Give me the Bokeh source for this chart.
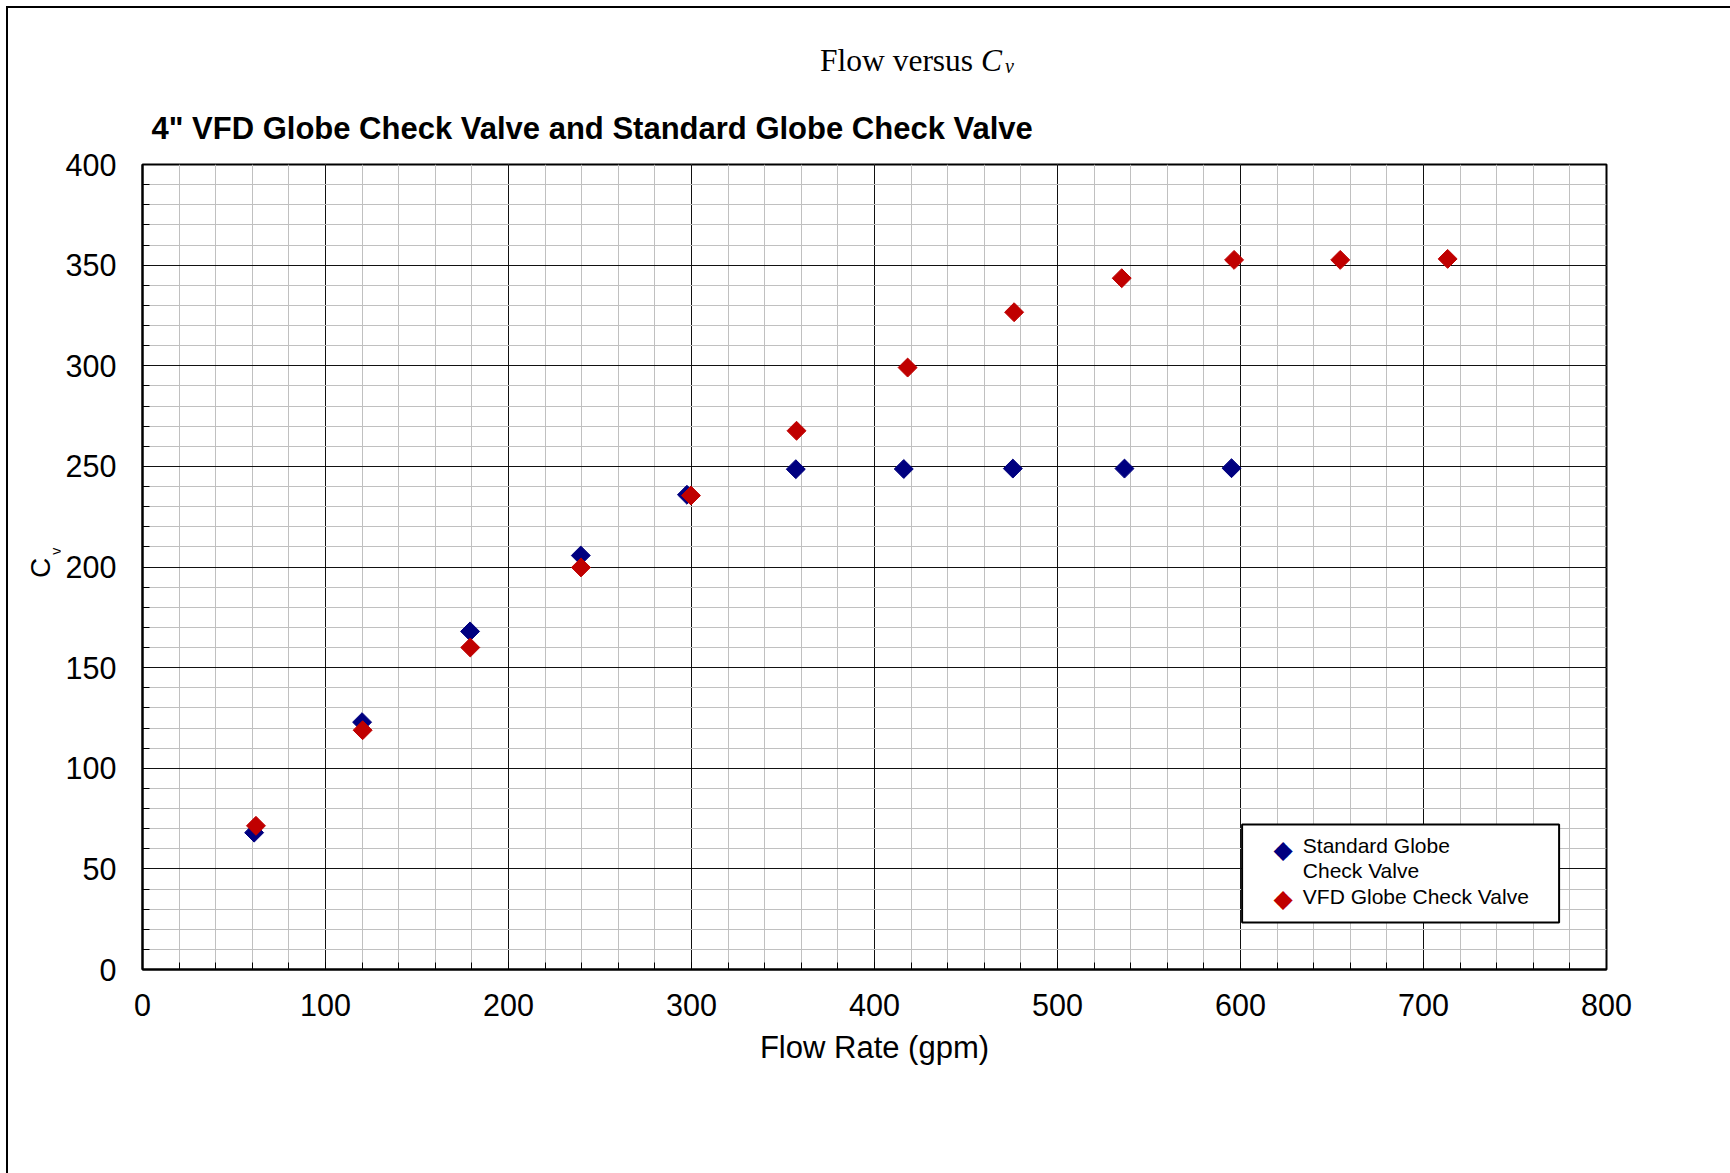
import math

from bokeh.embed import file_html
from bokeh.layouts import column, row
from bokeh.models import BoxAnnotation, Div, Label, Range1d, SingleIntervalTicker
from bokeh.plotting import figure
from bokeh.resources import INLINE

# Measured flow (gpm) and flow coefficient Cv for each valve
std_flow = [61.0, 120.0, 179.0, 239.5, 297.5, 357.0, 416.0, 475.6, 536.6, 595.1]
std_cv = [68.0, 122.9, 168.0, 205.7, 235.9, 248.6, 248.7, 248.9, 248.9, 249.1]

vfd_flow = [62.0, 120.3, 179.1, 239.6, 299.7, 357.4, 418.1, 476.3, 535.1, 596.5, 654.5, 713.2]
vfd_cv = [71.4, 118.9, 160.0, 199.8, 235.5, 267.7, 299.1, 326.6, 343.5, 352.6, 352.6, 353.1]

series_names = [["Standard Globe", "Check Valve"], ["VFD Globe Check Valve"]]
series_colors = ["#000080", "#C00000"]

x_limits = (0, 800)
y_limits = (0, 400)
x_major, x_minor_count = 100, 5
y_major, y_minor_count = 50, 5

SANS = "Liberation Sans"
SERIF = "Liberation Serif"

# heading line "Flow versus Cv" (italic C, subscript v) above the chart
heading = Div(
    width=1722, height=80, margin=(0, 0, 0, 0),
    text=(
        '<div style="position:absolute;left:812px;top:37px;white-space:nowrap;'
        "font-family:'Liberation Serif';font-size:31.5px;line-height:1;color:#000\">"
        'Flow versus <i>C</i><i style="font-size:20px;position:relative;top:2px;'
        'margin-left:3px">v</i></div>'
    ),
)

# rotated y-axis title "Cv" with a lowered subscript v
y_title = Div(
    width=52, height=1085, margin=(0, 0, 0, 0),
    text=(
        '<div style="position:absolute;left:18.5px;top:490px;white-space:nowrap;'
        'transform:rotate(-90deg);transform-origin:0 0;'
        "font-family:'Liberation Sans';font-size:28px;line-height:1;color:#000\">"
        'C<span style="font-size:14px;position:relative;top:11px;margin-left:3px">v</span>'
        '</div>'
    ),
)

p = figure(
    width=1670, height=1085,
    output_backend="svg", toolbar_location=None,
    x_range=Range1d(*x_limits), y_range=Range1d(*y_limits),
    min_border_left=82, min_border_right=124,
    min_border_top=76, min_border_bottom=204,
    background_fill_color="white", border_fill_color="white",
)

p.outline_line_color = "black"
p.outline_line_width = 2
p.outline_line_alpha = 1.0

# bold chart title, left aligned over the plot area
p.title.text = '4" VFD Globe Check Valve and Standard Globe Check Valve'
p.title.align = "left"
p.title.offset = 9
p.title.standoff = 38
p.title.text_font = SANS
p.title.text_font_size = "31px"
p.title.text_font_style = "bold"
p.title.text_color = "black"

# tickers shared by axes and grids: labelled majors, light minor subdivisions
xt = SingleIntervalTicker(interval=x_major, num_minor_ticks=x_minor_count)
yt = SingleIntervalTicker(interval=y_major, num_minor_ticks=y_minor_count)
p.xaxis.ticker = xt
p.xgrid.ticker = xt
p.yaxis.ticker = yt
p.ygrid.ticker = yt

for g in (p.xgrid[0], p.ygrid[0]):
    g.grid_line_color = "#111111"
    g.grid_line_width = 1
    g.minor_grid_line_color = "#c0c0c0"
    g.minor_grid_line_width = 1

for ax in (p.xaxis[0], p.yaxis[0]):
    ax.axis_line_color = "black"
    ax.axis_line_width = 2
    ax.major_tick_in = 7
    ax.major_tick_out = 0
    ax.minor_tick_in = 7
    ax.minor_tick_out = 0
    ax.major_tick_line_color = "black"
    ax.minor_tick_line_color = "black"
    ax.major_label_text_font = SANS
    ax.major_label_text_font_size = "30.5px"
    ax.major_label_text_color = "black"

p.xaxis.major_label_standoff = 24
p.yaxis.major_label_standoff = 26

p.xaxis.axis_label = "Flow Rate (gpm)"
p.xaxis.axis_label_text_font = SANS
p.xaxis.axis_label_text_font_size = "31px"
p.xaxis.axis_label_text_font_style = "normal"
p.xaxis.axis_label_text_color = "black"
p.xaxis.axis_label_standoff = 11

p.scatter(std_flow, std_cv, marker="square", angle=math.pi / 4, size=13.4,
          fill_color=series_colors[0], line_color=series_colors[0])
p.scatter(vfd_flow, vfd_cv, marker="square", angle=math.pi / 4, size=13.4,
          fill_color=series_colors[1], line_color=series_colors[1])

# legend box with diamond keys (positions in pixels from the plot area's lower left)
p.add_layout(BoxAnnotation(
    left=1099.6, right=1416.6, bottom=47, top=145,
    left_units="screen", right_units="screen", bottom_units="screen", top_units="screen",
    fill_color="white", fill_alpha=1.0, line_color="black", line_width=2, line_alpha=1.0,
    level="underlay"))

key_rows = [(120.0, [124.0, 99.0]), (71.3, [73.0])]
for color, names, (key_y, line_ys) in zip(series_colors, series_names, key_rows):
    p.add_layout(Label(x=1140.6, y=key_y, x_units="screen", y_units="screen", text="\u25C6",
                       text_font="DejaVu Sans", text_font_size="25px", text_color=color,
                       text_align="center", text_baseline="middle"))
    for name, ly in zip(names, line_ys):
        p.add_layout(Label(x=1160.3, y=ly, x_units="screen", y_units="screen", text=name,
                           text_font=SANS, text_font_size="21px", text_color="black",
                           text_align="left", text_baseline="middle"))

page = column(heading, row(y_title, p, margin=(0, 0, 0, 0)), margin=(6, 0, 0, 6),
              styles={"border-left": "2px solid #000", "border-top": "2px solid #000"})

open("out.html", "w").write(file_html(page, INLINE))
